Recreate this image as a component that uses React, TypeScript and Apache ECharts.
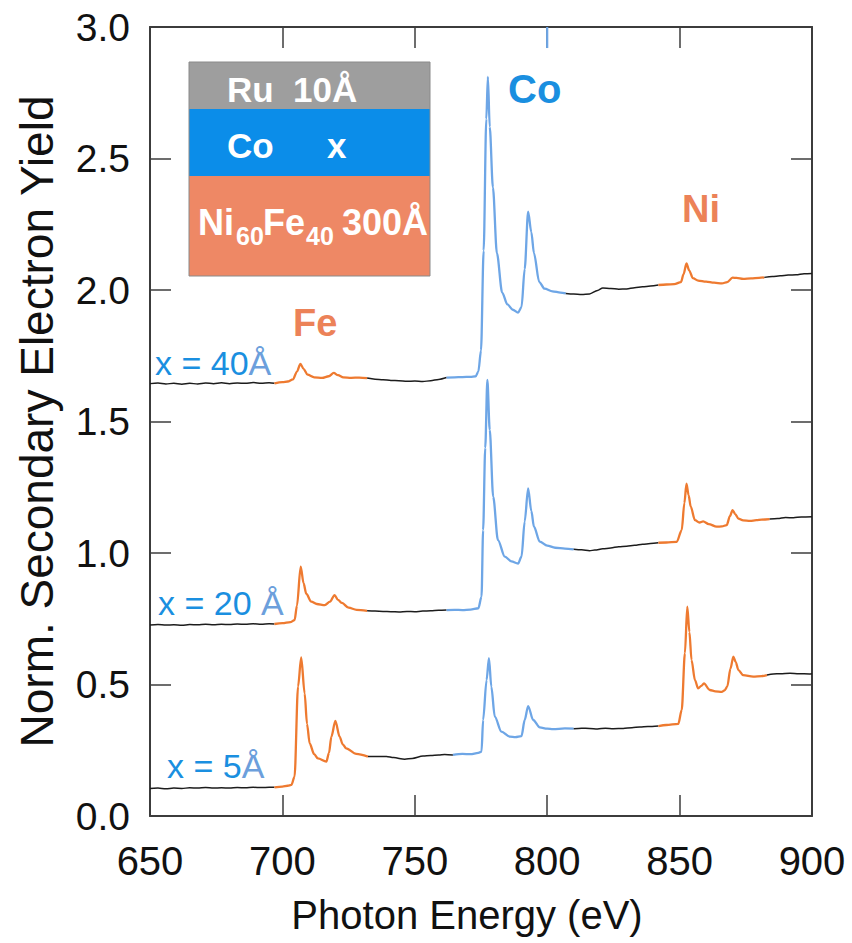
import React, { useEffect, useRef } from "react";
import * as echarts from "echarts";

// ---------- data (photon energy eV, normalized yield) ----------
const spectrum40: number[][] = [
  [650, 1.644], [653, 1.646], [656, 1.643], [659, 1.645], [662, 1.642], [665, 1.645], [668, 1.643],
  [671, 1.646], [674, 1.644], [677, 1.647], [680, 1.644], [683, 1.646], [686, 1.645], [689, 1.648],
  [692, 1.645], [695, 1.647], [697, 1.645], [700, 1.65], [702, 1.652], [704, 1.66], [705.5, 1.69],
  [706.8, 1.719], [708, 1.7], [709.5, 1.678], [712, 1.668], [715, 1.666], [717.5, 1.672], [719.4, 1.685],
  [721, 1.676], [723, 1.668], [726, 1.666], [729, 1.667], [732, 1.665], [735, 1.661], [738, 1.659],
  [741, 1.656], [744, 1.655], [747, 1.653], [750, 1.654], [753, 1.652], [756, 1.655], [759, 1.66],
  [762, 1.667], [765, 1.668], [768, 1.669], [771, 1.67], [773, 1.672], [774, 1.69], [775, 1.77],
  [776, 2.15], [777, 2.65], [777.6, 2.81], [778.3, 2.62], [779.5, 2.39], [781, 2.14], [783, 1.99],
  [785, 1.945], [787, 1.925], [789, 1.914], [790.3, 1.935], [791.5, 2.08], [792.8, 2.298], [794, 2.22],
  [795, 2.14], [797, 2.03], [799, 2.005], [802, 1.995], [805, 1.99], [807, 1.987], [810, 1.985],
  [813, 1.983], [816, 1.985], [819, 1.998], [821, 2.008], [824, 2.006], [827, 2.003], [830, 2.004],
  [833, 2.009], [836, 2.012], [839, 2.015], [842, 2.019], [845, 2.021], [848, 2.022], [850.5, 2.03],
  [851.5, 2.06], [852.6, 2.101], [853.6, 2.075], [855, 2.045], [857, 2.036], [860, 2.032], [863, 2.028],
  [866, 2.025], [868, 2.03], [870, 2.047], [871.5, 2.046], [874, 2.042], [877, 2.044], [880, 2.046],
  [882, 2.048], [885, 2.051], [888, 2.054], [891, 2.057], [894, 2.058], [897, 2.062], [900, 2.063],
];

const spectrum20: number[][] = [
  [650, 0.726], [653, 0.728], [656, 0.726], [659, 0.727], [662, 0.725], [665, 0.728], [668, 0.727],
  [671, 0.729], [674, 0.727], [677, 0.729], [680, 0.728], [683, 0.73], [686, 0.729], [689, 0.731],
  [692, 0.729], [695, 0.731], [697, 0.73], [700, 0.733], [703, 0.737], [704.6, 0.745], [705.5, 0.8],
  [706.9, 0.948], [708, 0.885], [709, 0.845], [710.9, 0.815], [713, 0.806], [716, 0.802], [718, 0.815],
  [719.7, 0.84], [721, 0.822], [722.5, 0.81], [725, 0.792], [728, 0.784], [732, 0.78], [735, 0.779],
  [738, 0.778], [741, 0.777], [744, 0.776], [747, 0.778], [750, 0.777], [753, 0.779], [756, 0.78],
  [759, 0.782], [762, 0.783], [765, 0.784], [768, 0.783], [771, 0.785], [774, 0.79], [775.2, 0.834],
  [775.8, 1.087], [776.6, 1.4], [777.4, 1.658], [778.3, 1.468], [779.6, 1.214], [781.4, 1.049],
  [784, 0.986], [786.5, 0.968], [789, 0.96], [790.3, 0.986], [791.5, 1.12], [792.8, 1.246], [794, 1.16],
  [795, 1.1], [797.2, 1.043], [800, 1.028], [803, 1.02], [806.7, 1.017], [810, 1.014], [813, 1.012],
  [816, 1.009], [818, 1.011], [821, 1.016], [824, 1.019], [827, 1.024], [830, 1.026], [833, 1.029],
  [836, 1.033], [839, 1.036], [842, 1.039], [845, 1.04], [848.9, 1.042], [850.8, 1.087], [851.8, 1.19],
  [852.6, 1.264], [853.4, 1.22], [854.2, 1.176], [855.8, 1.125], [857.5, 1.116], [858.9, 1.12],
  [861, 1.11], [864, 1.1], [866, 1.101], [867.8, 1.106], [869, 1.14], [870, 1.163], [871, 1.148],
  [872.2, 1.131], [874, 1.124], [876.6, 1.122], [879, 1.125], [881, 1.127], [884, 1.129], [887, 1.131],
  [890, 1.135], [893, 1.134], [896, 1.137], [900, 1.138],
];

const spectrum5: number[][] = [
  [650, 0.105], [653, 0.106], [656, 0.104], [659, 0.106], [662, 0.105], [665, 0.107], [668, 0.106],
  [671, 0.108], [674, 0.106], [677, 0.107], [680, 0.106], [683, 0.108], [686, 0.107], [689, 0.109],
  [692, 0.108], [695, 0.109], [697, 0.109], [700, 0.112], [702, 0.115], [703.4, 0.118], [704.6, 0.15],
  [705.9, 0.492], [707.1, 0.603], [708.4, 0.466], [709.3, 0.35], [710.3, 0.276], [712, 0.235],
  [713.4, 0.219], [716.6, 0.207], [717.6, 0.24], [718.5, 0.302], [720, 0.362], [721.6, 0.302],
  [722.8, 0.272], [724.1, 0.257], [727.9, 0.236], [732.3, 0.226], [735, 0.226], [739.3, 0.226],
  [742, 0.222], [746.2, 0.216], [749, 0.219], [753.1, 0.228], [756, 0.23], [759, 0.232], [761.3, 0.234],
  [764.4, 0.232], [768, 0.236], [771, 0.235], [774, 0.24], [775.2, 0.245], [775.8, 0.365], [777.1, 0.517],
  [778, 0.6], [778.9, 0.492], [780.2, 0.378], [782.7, 0.321], [785.9, 0.302], [788, 0.3], [790.3, 0.304],
  [791.5, 0.365], [792.8, 0.418], [794.7, 0.365], [797.2, 0.337], [800, 0.332], [802.2, 0.33],
  [806.7, 0.333], [810, 0.332], [813, 0.334], [816, 0.333], [819, 0.331], [822, 0.334], [825, 0.332],
  [828.7, 0.333], [832, 0.336], [835, 0.338], [838, 0.34], [842, 0.342], [845, 0.346], [849.5, 0.35],
  [850.8, 0.403], [852, 0.619], [852.9, 0.796], [853.7, 0.7], [854.5, 0.593], [855.8, 0.517], [857, 0.485],
  [858.2, 0.495], [859.2, 0.504], [861.4, 0.479], [863.5, 0.474], [865.9, 0.472], [867, 0.478],
  [868, 0.492], [869.2, 0.56], [870.3, 0.606], [871.2, 0.585], [872.2, 0.555], [874, 0.536],
  [877.8, 0.53], [881, 0.532], [883, 0.536], [885.4, 0.54], [888, 0.541], [891.7, 0.543], [895, 0.541],
  [899, 0.54], [900, 0.541],
];

const xTicks = { min: 650, max: 900, interval: 50 };
const yTicks = { min: 0, max: 3, interval: 0.5 };
const segmentEdges = [650, 697, 732, 762, 807, 842, 882, 900];
const coTickMark: number[][] = [[800, 3.0], [800, 2.92]];

// ---------- styles ----------
const FONT = '"Liberation Sans", Arial, Helvetica, sans-serif';
const BLACK = "#1c1c1c";
const ORANGE = "#ee7a30";
const BLUE = "#6ea6e6";
const segmentColors = [BLACK, ORANGE, BLACK, BLUE, BLACK, ORANGE, BLACK];
const AXIS = "#3c3c3c";
const LABEL_BLUE = "#1a8fe0";
const LABEL_ANG = "#6c9fdc";
const LABEL_SALMON = "#ec8258";

function splitSpectrum(pts: number[][], name: string) {
  const out: any[] = [];
  for (let s = 0; s < segmentEdges.length - 1; s++) {
    const a = segmentEdges[s];
    const b = segmentEdges[s + 1];
    const seg: number[][] = [];
    let lastIdx = -1;
    pts.forEach((p, i) => {
      if (p[0] >= a && p[0] <= b) {
        seg.push(p);
        lastIdx = i;
      }
    });
    if (lastIdx >= 0 && lastIdx + 1 < pts.length && pts[lastIdx][0] < b) seg.push(pts[lastIdx + 1]);
    const color = segmentColors[s];
    out.push({
      name: name + "-" + s,
      type: "line",
      data: seg,
      symbol: "none",
      showSymbol: false,
      silent: true,
      smooth: 0.3,
      smoothMonotone: "x",
      lineStyle: { color, width: color === BLACK ? 1.5 : 2.3 },
      z: 3,
    });
  }
  return out;
}

export default function App() {
  const ref = useRef<HTMLDivElement>(null);
  useEffect(() => {
    if (!ref.current) return;
    const chart = echarts.init(ref.current, undefined, { renderer: "svg" });
    const bandText = (text: string, x: number, y: number, size = 35) => ({
      type: "text",
      z: 20,
      style: {
        text,
        x,
        y,
        fill: "#ffffff",
        fontSize: size,
        fontWeight: "bold",
        fontFamily: FONT,
        textAlign: "left",
        textVerticalAlign: "middle",
      },
    });
    const thicknessLabel = (num: string, x: number, y: number) => ({
      type: "text",
      z: 20,
      style: {
        text: `{a|${num}}{b|Å}`,
        x,
        y,
        textAlign: "left",
        textVerticalAlign: "middle",
        rich: {
          a: { fill: LABEL_BLUE, fontSize: 34, fontFamily: FONT },
          b: { fill: LABEL_ANG, fontSize: 34, fontFamily: FONT },
        },
      },
    });
    const option: any = {
      animation: false,
      backgroundColor: "#ffffff",
      textStyle: { fontFamily: FONT },
      grid: { left: 150, right: 40, top: 27, bottom: 127, containLabel: false, outerBoundsMode: "none" },
      xAxis: [
        {
          type: "value",
          position: "bottom",
          ...xTicks,
          name: "Photon Energy (eV)",
          nameLocation: "middle",
          nameGap: 79,
          nameTextStyle: { fontSize: 40, color: "#111", fontFamily: FONT, padding: [0, 28, 0, 0] },
          axisLine: { show: true, onZero: false, lineStyle: { color: AXIS, width: 2 } },
          axisTick: { show: true, inside: true, length: 21, lineStyle: { color: AXIS, width: 1.5 } },
          axisLabel: { fontSize: 40, color: "#111", margin: 25, fontFamily: FONT },
          splitLine: { show: false },
        },
        {
          type: "value",
          position: "top",
          ...xTicks,
          axisLine: { show: true, onZero: false, lineStyle: { color: AXIS, width: 2 } },
          axisTick: { show: true, inside: true, length: 21, lineStyle: { color: AXIS, width: 1.5 } },
          axisLabel: { show: false },
          splitLine: { show: false },
        },
      ],
      yAxis: [
        {
          type: "value",
          position: "left",
          ...yTicks,
          name: "Norm. Secondary Electron Yield",
          nameLocation: "middle",
          nameGap: 90,
          nameTextStyle: { fontSize: 46, color: "#111", fontFamily: FONT },
          axisLine: { show: true, onZero: false, lineStyle: { color: AXIS, width: 2 } },
          axisTick: { show: true, inside: true, length: 21, lineStyle: { color: AXIS, width: 1.5 } },
          axisLabel: {
            fontSize: 39,
            color: "#111",
            margin: 20,
            fontFamily: FONT,
            formatter: (v: number) => v.toFixed(1),
          },
          splitLine: { show: false },
        },
        {
          type: "value",
          position: "right",
          ...yTicks,
          axisLine: { show: true, onZero: false, lineStyle: { color: AXIS, width: 2 } },
          axisTick: { show: true, inside: true, length: 21, lineStyle: { color: AXIS, width: 1.5 } },
          axisLabel: { show: false },
          splitLine: { show: false },
        },
      ],
      series: [
        ...splitSpectrum(spectrum5, "x5"),
        ...splitSpectrum(spectrum20, "x20"),
        ...splitSpectrum(spectrum40, "x40"),
        {
          name: "co-tick",
          type: "line",
          data: coTickMark,
          symbol: "none",
          silent: true,
          clip: false,
          lineStyle: { color: BLUE, width: 2.2 },
          z: 10,
        },
      ],
      graphic: [
        { type: "rect", z: 15, shape: { x: 189, y: 62, width: 241, height: 47 }, style: { fill: "#9e9e9e" } },
        { type: "rect", z: 15, shape: { x: 189, y: 109, width: 241, height: 67 }, style: { fill: "#0b8de9" } },
        { type: "rect", z: 15, shape: { x: 189, y: 176, width: 241, height: 100 }, style: { fill: "#ee8865" } },
        {
          type: "rect",
          z: 16,
          shape: { x: 189, y: 62, width: 241, height: 214 },
          style: { fill: "none", stroke: "#8a8a8a", lineWidth: 1 },
        },
        bandText("Ru  10Å", 227, 89),
        bandText("Co", 227, 145),
        bandText("x", 327, 145),
        bandText("Ni", 198, 222, 36),
        bandText("60", 236, 236, 25),
        bandText("Fe", 263, 222, 36),
        bandText("40", 306, 236, 25),
        bandText("300Å", 342, 222, 36),
        {
          type: "text",
          z: 20,
          style: { text: "Co", x: 508, y: 89, fill: LABEL_BLUE, fontSize: 40, fontWeight: "bold", fontFamily: FONT, textVerticalAlign: "middle" },
        },
        {
          type: "text",
          z: 20,
          style: { text: "Ni", x: 682, y: 209, fill: LABEL_SALMON, fontSize: 38, fontWeight: "bold", fontFamily: FONT, textVerticalAlign: "middle" },
        },
        {
          type: "text",
          z: 20,
          style: { text: "Fe", x: 293, y: 323, fill: LABEL_SALMON, fontSize: 38, fontWeight: "bold", fontFamily: FONT, textVerticalAlign: "middle" },
        },
        thicknessLabel("x = 40", 155, 363),
        thicknessLabel("x = 20 ", 158, 603),
        thicknessLabel("x = 5", 167, 766),
      ],
    };
    chart.setOption(option);
    return () => chart.dispose();
  }, []);
  return (
    <div
      ref={ref}
      style={{ position: "fixed", left: 0, top: 0, width: 852, height: 943, background: "#fff" }}
    />
  );
}
